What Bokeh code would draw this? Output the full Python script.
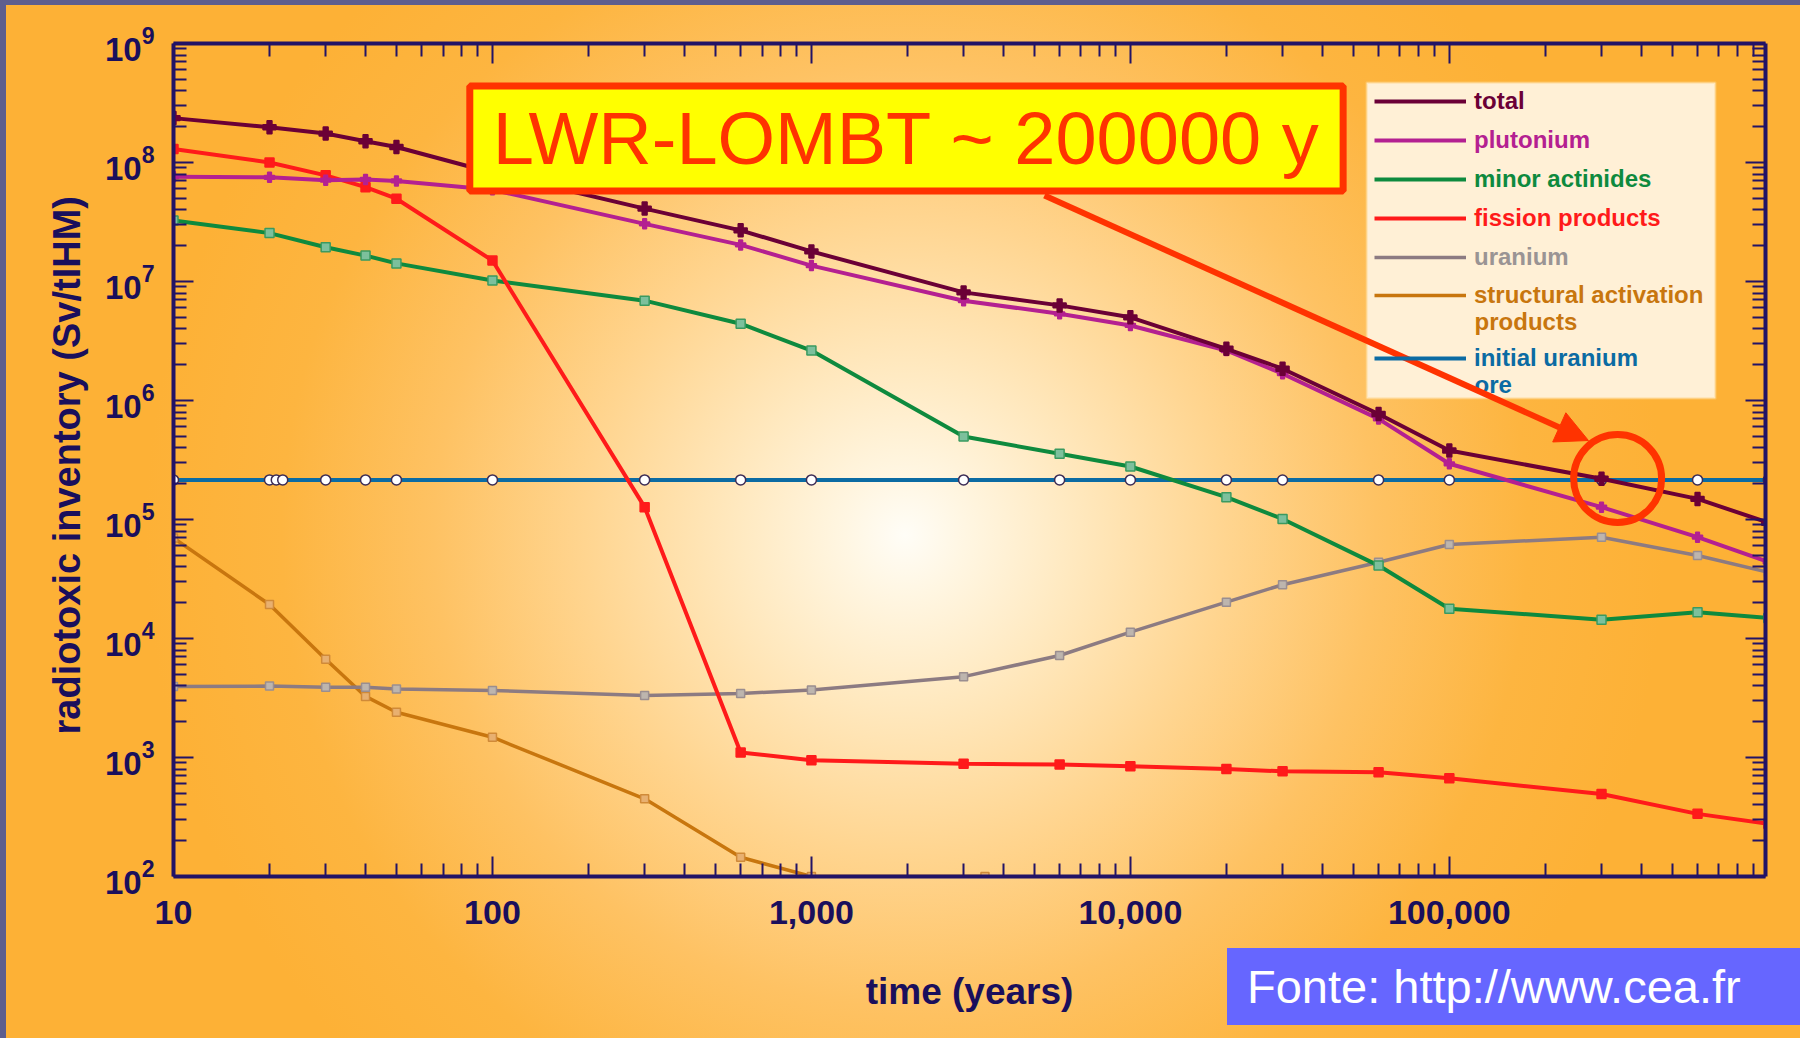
from bokeh.plotting import figure
from bokeh.models import (Range1d, LogAxis, FixedTicker, NumeralTickFormatter,
                          Legend, LegendItem, Label, Arrow, NormalHead, BoxAnnotation,
                          ColumnDataSource, CustomJSTickFormatter, Div)
from bokeh.embed import file_html
from bokeh.resources import INLINE

# ---------------- data ----------------
time_years = [10, 20, 30, 40, 50, 100, 300, 600, 1000, 3000, 6000, 10000,
              20000, 30000, 60000, 100000, 300000, 600000, 1000000]
total = [2.36e8, 1.98e8, 1.75e8, 1.51e8, 1.35e8, 8.2e7, 4.1e7, 2.69e7, 1.79e7,
         8.1e6, 6.3e6, 5.0e6, 2.72e6, 1.85e6, 7.7e5, 3.8e5, 2.2e5, 1.49e5, 9.4e4]
plutonium = [7.6e7, 7.5e7, 7.1e7, 7.2e7, 7.0e7, 5.9e7, 3.05e7, 2.03e7, 1.36e7,
             6.9e6, 5.35e6, 4.27e6, 2.63e6, 1.68e6, 7.0e5, 2.94e5, 1.27e5, 7.1e4, 4.4e4]
minor_actinides = [3.26e7, 2.55e7, 1.94e7, 1.65e7, 1.42e7, 1.02e7, 6.9e6, 4.42e6,
                   2.63e6, 4.98e5, 3.57e5, 2.79e5, 1.54e5, 1.01e5, 4.1e4, 1.78e4,
                   1.44e4, 1.66e4, 1.49e4]
fission_products = [1.30e8, 1.0e8, 7.8e7, 6.2e7, 4.96e7, 1.5e7, 1.27e5, 1.1e3, 950,
                    885, 873, 846, 802, 765, 752, 668, 494, 336, 277]
uranium = [3.95e3, 3.98e3, 3.9e3, 3.9e3, 3.77e3, 3.66e3, 3.32e3, 3.45e3, 3.7e3,
           4.78e3, 7.2e3, 1.13e4, 2.02e4, 2.83e4, 4.37e4, 6.17e4, 7.1e4, 4.98e4, 3.6e4]
structural_time = [10, 20, 30, 40, 50, 100, 300, 600, 1000, 3500]
structural = [7.0e4, 1.93e4, 6.7e3, 3.26e3, 2.4e3, 1.48e3, 450, 145, 100, 100]
ore_time = [10, 20, 21, 22, 30, 40, 50, 100, 300, 600, 1000, 3000, 6000, 10000,
            20000, 30000, 60000, 100000, 300000, 600000, 1000000]
ore = [2.15e5, 2.15e5, 2.15e5, 2.15e5, 2.15e5, 2.15e5, 2.15e5, 2.15e5, 2.15e5,
       2.15e5, 2.15e5, 2.15e5, 2.15e5, 2.15e5, 2.15e5, 2.15e5, 2.15e5, 2.15e5,
       2.15e5, 2.15e5, 2.15e5]

x_ticks = [10, 100, 1000, 10000, 100000]
y_ticks = [1e2, 1e3, 1e4, 1e5, 1e6, 1e7, 1e8, 1e9]
x_minor = [m * d for d in [10, 100, 1000, 10000, 100000] for m in range(2, 10)]
y_minor = [m * d for d in y_ticks[:-1] for m in range(2, 10)]

legend_labels = ["total", "plutonium", "minor actinides", "fission products",
                 "uranium", "structural activation", "initial uranium"]
legend_second_lines = ["products", "ore"]

annotation_text = "LWR-LOMBT ~ 200000 y"
source_text = "Fonte: http://www.cea.fr"

# ---------------- styling ----------------
AXIS = "#221366"
RED = "#FF3300"
C_TOTAL = "#6B0036"
C_PU = "#B42091"
C_MA = "#0E8A3E"
C_FP = "#FF1A1A"
C_U = "#8C7B82"
C_SAP = "#C8760E"
C_ORE = "#0B6BA3"
LEG_FONT = "Liberation Sans"

p = figure(width=1800, height=1038, x_axis_type="log", y_axis_type="log",
           x_range=Range1d(10, 9.8e5), y_range=Range1d(1e2, 1e9),
           output_backend="svg", toolbar_location=None,
           min_border_left=173, min_border_right=35, min_border_top=43,
           min_border_bottom=162,
           background_fill_color=None, border_fill_color=None,
           outline_line_color=None)
p.grid.visible = False

p.styles = {
    "background-image": ("radial-gradient(circle 760px at 905px 535px, #FFFDF7 0%, "
                         "#FFF6E2 8%, #FFE9C0 22%, #FFD590 42%, #FEC263 62%, "
                         "#FDB540 82%, #FDB136 100%)"),
    "box-shadow": "inset 6px 5px 0 0 #5E5E8E",
}


def style_axis(ax):
    ax.axis_line_color = AXIS
    ax.axis_line_width = 4
    ax.major_tick_line_color = AXIS
    ax.major_tick_line_width = 2
    ax.minor_tick_line_color = AXIS
    ax.minor_tick_line_width = 2
    ax.major_tick_in = 20
    ax.major_tick_out = 0
    ax.minor_tick_in = 13
    ax.minor_tick_out = 0


xax = p.xaxis[0]
xax.ticker = FixedTicker(ticks=x_ticks, minor_ticks=x_minor)
xax.formatter = NumeralTickFormatter(format="0,0")
style_axis(xax)
xax.major_label_text_font = "Liberation Sans"
xax.major_label_text_font_style = "bold"
xax.major_label_text_font_size = "34px"
xax.major_label_text_color = "#1A0F5C"
xax.major_label_standoff = 24
xax.axis_label = "time (years)"
xax.axis_label_text_font = "Liberation Sans"
xax.axis_label_text_font_style = "bold"
xax.axis_label_text_font_size = "37px"
xax.axis_label_text_color = "#1A0F5C"
xax.axis_label_standoff = 44

yax = p.yaxis[0]
yax.ticker = FixedTicker(ticks=y_ticks, minor_ticks=y_minor)
style_axis(yax)
yax.major_label_text_font = "Liberation Sans"
yax.major_label_text_font_style = "bold"
yax.major_label_text_font_size = "33px"
yax.major_label_text_color = "#1A0F5C"
yax.major_label_standoff = 19
yax.axis_label = "radiotoxic inventory  (Sv/tIHM)"
yax.axis_label_text_font = "Liberation Sans"
yax.axis_label_text_font_style = "bold"
yax.axis_label_text_font_size = "38px"
yax.axis_label_text_color = "#1A0F5C"
yax.axis_label_standoff = 14

blank = CustomJSTickFormatter(code="return ''")
top_ax = LogAxis(ticker=FixedTicker(ticks=x_ticks, minor_ticks=x_minor),
                 formatter=blank, major_label_text_font_size="2px")
style_axis(top_ax)
p.add_layout(top_ax, "above")
right_ax = LogAxis(ticker=FixedTicker(ticks=y_ticks, minor_ticks=y_minor),
                   formatter=blank, major_label_text_font_size="2px")
style_axis(right_ax)
p.add_layout(right_ax, "right")


def series(t, v, color, lw, marker, msize, mfill, mline):
    src = ColumnDataSource(dict(t=t, v=v))
    r = p.line("t", "v", source=src, line_color=color, line_width=lw)
    p.scatter("t", "v", source=src, marker=marker, size=msize,
              fill_color=mfill, line_color=mline, line_width=1.5)
    return r


r_sap = series(structural_time, structural, C_SAP, 3.5, "square", 8, "#E8B070", "#D08A38")
r_u = series(time_years, uranium, C_U, 3.5, "square", 8, "#BDB5AE", "#9A8E90")
r_ore = series(ore_time, ore, C_ORE, 4, "circle", 10, "#FFFFFF", "#3C2C55")
r_ma = series(time_years, minor_actinides, C_MA, 4, "square", 9, "#7CC09C", "#3A9A60")
r_fp = series(time_years, fission_products, C_FP, 4, "square", 9, C_FP, C_FP)
r_pu = series(time_years, plutonium, C_PU, 4, "plus", 10, C_PU, C_PU)
r_tot = series(time_years, total, C_TOTAL, 4, "plus", 13, C_TOTAL, C_TOTAL)

# legend background box
p.add_layout(BoxAnnotation(left=5.50e4, right=6.83e5, top=4.70e8, bottom=1.04e6,
                           fill_color="#FFF0D6", fill_alpha=1,
                           line_color="#FFD27A", line_width=3))

legend_rows = [(legend_labels[0], r_tot, C_TOTAL, 101),
               (legend_labels[1], r_pu, C_PU, 140),
               (legend_labels[2], r_ma, C_MA, 179),
               (legend_labels[3], r_fp, C_FP, 218),
               (legend_labels[4], r_u, "#9A9494", 257),
               (legend_labels[5], r_sap, C_SAP, 295),
               (legend_labels[6], r_ore, C_ORE, 358)]
for lab, rend, col, cy in legend_rows:
    lg = Legend(items=[LegendItem(label=lab, renderers=[rend])],
                location=(1374 - 173, 876 - cy - 14), orientation="vertical",
                glyph_width=92, glyph_height=28, label_standoff=8, padding=0,
                margin=0, spacing=0, label_height=28, label_width=10,
                border_line_color=None, background_fill_alpha=0,
                label_text_font=LEG_FONT, label_text_font_size="24px",
                label_text_font_style="bold", label_text_color=col)
    p.add_layout(lg)

for txt, ydat, col in [(legend_second_lines[0], 4.6e6, C_SAP),
                       (legend_second_lines[1], 1.35e6, C_ORE)]:
    p.add_layout(Label(x=1.2e5, y=ydat, text=txt, text_align="left",
                       text_baseline="middle", text_font=LEG_FONT,
                       text_font_size="24px", text_font_style="bold",
                       text_color=col))

# annotation arrow, circle, box
p.add_layout(Arrow(end=NormalHead(size=32, fill_color=RED, line_color=RED),
                   x_start=5378, y_start=5.28e7, x_end=2.73e5, y_end=4.61e5,
                   line_color=RED, line_width=6))
p.circle(x=[3.37e5], y=[2.21e5], radius=44, radius_units="screen",
         fill_color=None, line_color=RED, line_width=7)
p.add_layout(Label(x=1986, y=1.59e8, text=annotation_text, text_align="center",
                   text_baseline="middle", text_font="Liberation Sans",
                   text_font_size="74px", text_color=RED,
                   background_fill_color="#FFFF00", background_fill_alpha=1,
                   border_line_color=RED, border_line_width=7,
                   padding=(23, 11)))

# source box, overlaid at the bottom-right corner of the page
source_box = Div(text=source_text, width=578, height=77,
                 styles={"position": "absolute", "left": "1222px", "top": "943px",
                         "z-index": "10",
                         "background-color": "#6666FF", "color": "#FFFFFF",
                         "font-family": "'Liberation Sans', sans-serif",
                         "font-size": "47px", "line-height": "77px",
                         "padding-left": "20px", "box-sizing": "border-box",
                         "white-space": "nowrap", "overflow": "hidden"})

open("out.html", "w").write(file_html([p, source_box], INLINE,
                                      title="radiotoxic inventory"))
